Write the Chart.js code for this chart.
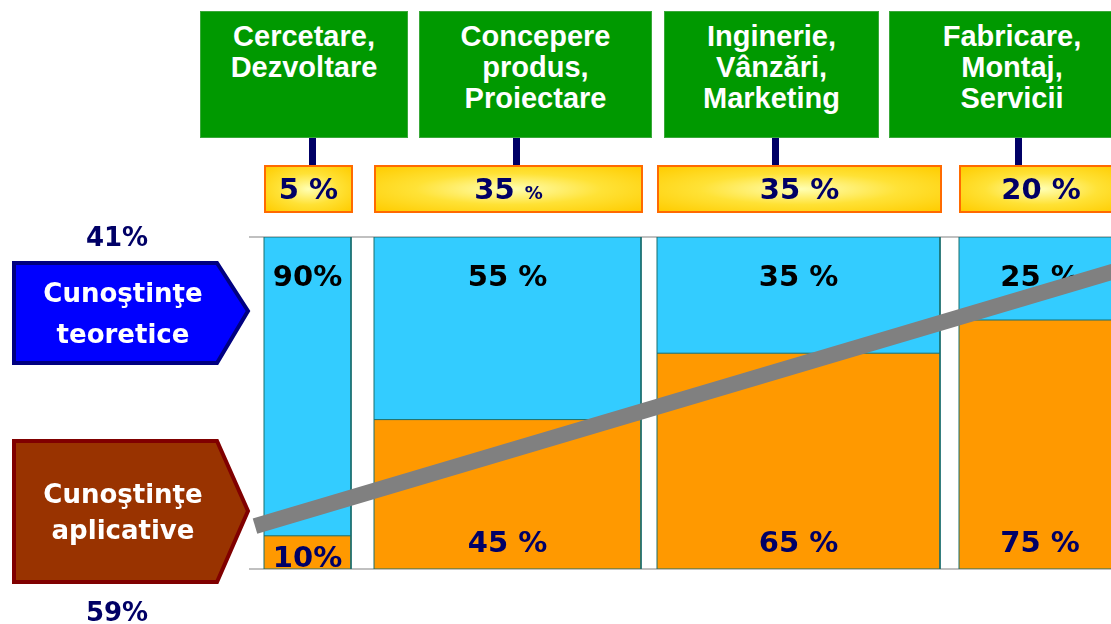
<!DOCTYPE html>
<html>
<head>
<meta charset="utf-8">
<script src="https://cdn.jsdelivr.net/npm/chart.js@4.4.1/dist/chart.umd.min.js"></script>
<style>
  body { margin: 0; background: #fff; }
  #wrap { position: relative; width: 1111px; height: 624px; overflow: hidden; }
  #chart-box { position: absolute; left: 0; top: 0; width: 1111px; height: 624px; }
  .stage {
    position: absolute; top: 11px; height: 127px; box-sizing: border-box;
    background: #009900; border: 1px solid #3aa83a; padding-top: 9px;
    color: #fff; text-align: center;
    font: bold 29px/31px "Liberation Sans", Arial, sans-serif;
  }
  .link { position: absolute; top: 138px; height: 27px; width: 7px; background: #000066; }
  .share {
    position: absolute; top: 165px; height: 48px; box-sizing: border-box;
    border: 2px solid #ff6a00;
    background: radial-gradient(ellipse at center, #ffffb4 0%, #ffe236 50%, #ffcc00 100%);
    color: #000066; text-align: center;
    font: bold 29px/44px "DejaVu Sans", sans-serif;
  }
  .share small { font-size: 18px; }
  .arrow-txt {
    position: absolute; left: 12px; width: 222px; text-align: center;
    color: #fff; font: bold 26px "DejaVu Sans", sans-serif;
  }
  .total {
    position: absolute; left: 67px; width: 100px; text-align: center;
    color: #000066; font: bold 26px/30px "DejaVu Sans", sans-serif;
  }
</style>
</head>
<body>
<div id="wrap">
  <div id="chart-box"><canvas id="mixChart"></canvas></div>
  <svg width="260" height="624" style="position:absolute;left:0;top:0">
    <polygon points="14,263 217,263 248,311 217,363 14,363" fill="#0000ff" stroke="#000080" stroke-width="4"/>
    <polygon points="14,441 217,441 248,511 217,582 14,582" fill="#993300" stroke="#800000" stroke-width="4"/>
  </svg>
  <div class="arrow-txt" style="top:273px;line-height:41px">Cunoştinţe<br>teoretice</div>
  <div class="arrow-txt" style="top:476px;line-height:36px">Cunoştinţe<br>aplicative</div>
  <div class="total" id="total-theory" style="top:222px"></div>
  <div class="total" id="total-applied" style="top:597px"></div>
  <div id="headers"></div>
</div>
<script>
// Activity stages and their share
const stages = [
    ['Cercetare,', 'Dezvoltare'],
    ['Concepere', 'produs,', 'Proiectare'],
    ['Inginerie,', 'Vânzări,', 'Marketing'],
    ['Fabricare,', 'Montaj,', 'Servicii']
];
const stageShare = [5, 35, 35, 20];

// Knowledge split per stage (%)
const theoryShare = [90, 55, 35, 25];
const appliedShare = [10, 45, 65, 75];

// Overall totals
const totalTheory = 41;
const totalApplied = 59;

// Grey trend band, start and end value (%)
const trendValues = [12.9, 91.0];

// Layout: column spans on the x scale, header boxes in pixels
const colSpans = [[15, 102], [125, 392], [408, 691], [710, 872]];
const trendSpan = [6, 880];
const headerBoxes = [[200, 408], [419, 652], [664, 879], [889, 1135]];
const linkX = [309, 513, 772, 1015];

const EDGE = '#1b6e6e';

function pct(v, i) {
    // the first column is written without the space
    return i === 0 ? v + '%' : v + ' %';
}

const datasets = [];
datasets.push({
    label: 'trend',
    data: trendSpan.map((x, i) => ({ x: x, y: trendValues[i] })),
    borderColor: '#808080',
    borderWidth: 16,
    borderCapStyle: 'butt',
    pointRadius: 0,
    fill: false
});
colSpans.forEach(([x0, x1]) => {
    datasets.push({
        label: 'outline',
        data: [{ x: x0, y: 0 }, { x: x0, y: 100 }, { x: x1, y: 100 }, { x: x1, y: 0 }, { x: x0, y: 0 }],
        borderColor: EDGE,
        borderWidth: 1,
        pointRadius: 0,
        fill: false
    });
});
appliedShare.forEach((v, i) => {
    datasets.push({
        label: 'aplicative',
        data: [{ x: colSpans[i][0], y: v }, { x: colSpans[i][1], y: v }],
        borderColor: EDGE,
        borderWidth: 1,
        backgroundColor: '#ff9900',
        pointRadius: 0,
        fill: 'origin'
    });
});
appliedShare.forEach((v, i) => {
    const top = v + theoryShare[i];
    datasets.push({
        label: 'teoretice',
        data: [{ x: colSpans[i][0], y: top }, { x: colSpans[i][1], y: top }],
        borderWidth: 0,
        backgroundColor: '#33ccff',
        pointRadius: 0,
        fill: 'origin'
    });
});

// Percent labels inside the columns, drawn just before the trend band
const barLabels = {
    id: 'barLabels',
    beforeDatasetDraw(chart, args) {
        if (args.index !== 0) return;
        const { ctx, scales: { x, y } } = chart;
        ctx.save();
        ctx.font = 'bold 29px "DejaVu Sans", sans-serif';
        ctx.textAlign = 'center';
        ctx.textBaseline = 'middle';
        colSpans.forEach(([x0, x1], i) => {
            const cx = (x.getPixelForValue(x0) + x.getPixelForValue(x1)) / 2;
            ctx.fillStyle = '#000000';
            ctx.fillText(pct(theoryShare[i], i), cx, y.getPixelForValue(100) + 41);
            ctx.fillStyle = '#000066';
            const by = Math.max(y.getPixelForValue(0) - 25, y.getPixelForValue(appliedShare[i]) + 24);
            ctx.fillText(pct(appliedShare[i], i), cx, by);
        });
        ctx.restore();
    }
};

const chart = new Chart(document.getElementById('mixChart'), {
    type: 'line',
    data: { datasets: datasets },
    options: {
        responsive: true,
        maintainAspectRatio: false,
        animation: false,
        events: [],
        layout: { padding: { left: 249, top: 237, right: 0, bottom: 55 } },
        plugins: {
            legend: { display: false },
            tooltip: { enabled: false }
        },
        scales: {
            x: { type: 'linear', display: false, min: 0, max: 862 },
            y: {
                min: 0,
                max: 100,
                ticks: { display: false, stepSize: 100 },
                grid: { color: '#c0c0c0', lineWidth: 2, drawTicks: false },
                border: { display: false }
            }
        }
    },
    plugins: [barLabels]
});

// Header boxes, connectors and share boxes
const headers = document.getElementById('headers');
const xs = chart.scales.x;
stages.forEach((lines, i) => {
    const box = document.createElement('div');
    box.className = 'stage';
    box.style.left = headerBoxes[i][0] + 'px';
    box.style.width = (headerBoxes[i][1] - headerBoxes[i][0]) + 'px';
    box.innerHTML = lines.join('<br>');
    headers.appendChild(box);

    const link = document.createElement('div');
    link.className = 'link';
    link.style.left = linkX[i] + 'px';
    headers.appendChild(link);

    const share = document.createElement('div');
    share.className = 'share';
    const left = xs.getPixelForValue(colSpans[i][0]);
    share.style.left = left + 'px';
    share.style.width = (xs.getPixelForValue(colSpans[i][1]) - left + 2) + 'px';
    share.innerHTML = i === 1 ? stageShare[i] + ' <small>%</small>' : stageShare[i] + ' %';
    headers.appendChild(share);
});
document.getElementById('total-theory').textContent = totalTheory + '%';
document.getElementById('total-applied').textContent = totalApplied + '%';
</script>
</body>
</html>
